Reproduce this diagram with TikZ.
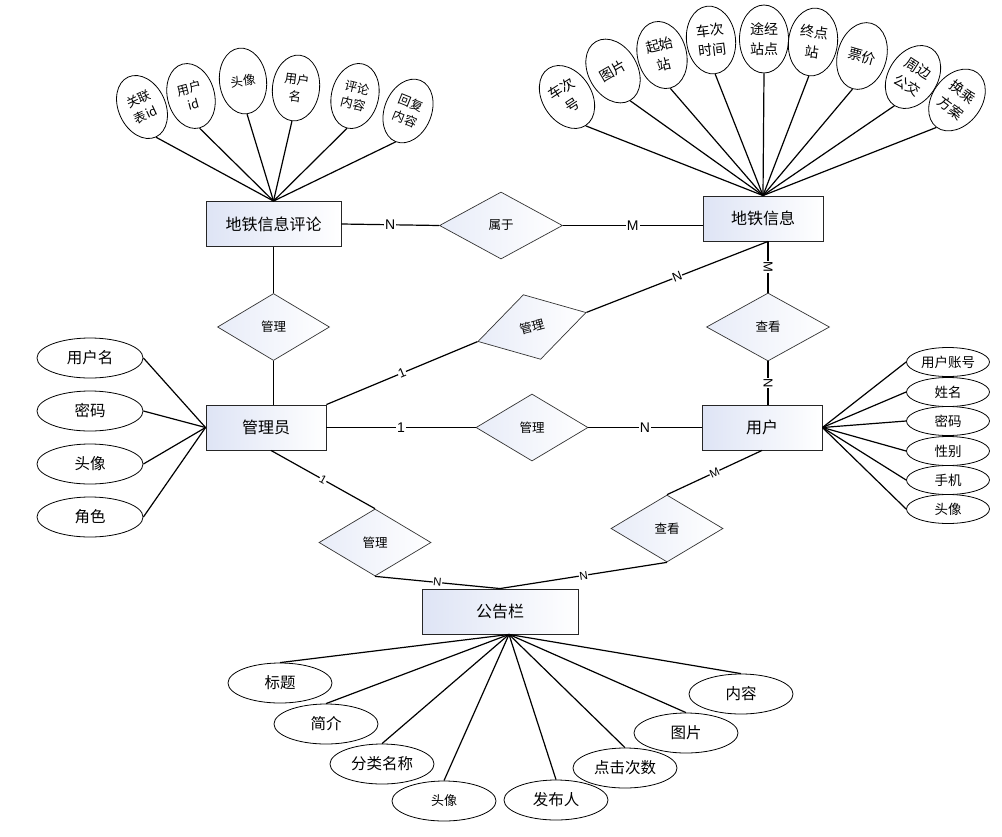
\documentclass[tikz,border=0pt]{standalone}
\usepackage{fontspec}
\newfontfamily\cjk{Noto Sans CJK SC}
\newfontfamily\lat{Liberation Sans}
\usetikzlibrary{shapes.geometric}
\definecolor{entbg}{RGB}{222,228,245}
\begin{document}
\begin{tikzpicture}[x=1pt,y=-1pt,
  ent/.style={draw=black!85, line width=0.9pt, minimum height=45pt, inner sep=0pt,
    left color=entbg, right color=white, font=\cjk\fontsize{16}{19}\selectfont},
  rel/.style={diamond, draw=black!80, line width=0.7pt, minimum width=112pt, minimum height=67pt,
    inner sep=0pt, left color=entbg!70!white, right color=white, font=\cjk\fontsize{12.5}{15}\selectfont},
  con/.style={draw=black, line width=1.2pt},
  lbl/.style={fill=white, inner sep=1pt, font=\lat\fontsize{14}{16}\selectfont},
  lblm/.style={fill=white, inner sep=0.5pt, font=\lat\fontsize{13}{15}\selectfont},
  lbls/.style={fill=white, inner sep=0.5pt, font=\lat\fontsize{11.5}{13}\selectfont},
  fanA/.style={ellipse, draw=black, line width=0.8pt, fill=white, minimum width=47pt, minimum height=66pt,
    inner sep=0pt, align=center, font=\cjk\fontsize{12.5}{17}\selectfont},
  fanB/.style={ellipse, draw=black, line width=0.8pt, fill=white, minimum width=49pt, minimum height=68pt,
    inner sep=0pt, align=center, font=\cjk\fontsize{14}{20}\selectfont},
  attL/.style={ellipse, draw=black, line width=0.8pt, fill=white, minimum width=106pt, minimum height=40pt,
    inner sep=0pt, font=\cjk\fontsize{15.5}{18}\selectfont},
  attR/.style={ellipse, draw=black, line width=0.8pt, fill=white, minimum width=83pt, minimum height=29pt,
    inner sep=0pt, font=\cjk\fontsize{13.5}{16}\selectfont},
  attG/.style={ellipse, draw=black, line width=0.8pt, fill=white, minimum width=104pt, minimum height=40pt,
    inner sep=0pt, font=\cjk\fontsize{15.5}{18}\selectfont}
]
\useasboundingbox (0,0) rectangle (1002,836);

% entities
\node[ent, minimum width=135pt] (cmt) at (273.5,224) {地铁信息评论};
\node[ent, minimum width=120pt] (sub) at (763,218.5) {地铁信息};
\node[ent, minimum width=120pt] (adm) at (266,427.5) {管理员};
\node[ent, minimum width=120pt] (usr) at (762,427.5) {用户};
\node[ent, minimum width=156pt] (ggl) at (500,611.5) {公告栏};

% relationships
\node[rel, minimum width=123pt] (shuyu) at (501,225.5) {属于};
\node[rel] (gl1) at (273.5,327) {管理};
\node[rel, rotate=15] (gl2) at (532,327) {管理};
\node[rel, minimum width=123pt, minimum height=68pt] (ck1) at (768,327) {查看};
\node[rel] (gl3) at (532,427.5) {管理};
\node[rel] (gl4) at (375,542.5) {管理};
\node[rel] (ck2) at (667,528.5) {查看};

\coordinate (subB) at (ck1.north |- sub.south);
\coordinate (admB) at ([xshift=5pt]adm.south);
\coordinate (gglF) at ([xshift=9pt]ggl.south);

% relationship connectors
\draw[con] (cmt.east) -- node[lbl]{N} (shuyu.west);
\draw[con] (shuyu.east) -- node[lbl]{M} (shuyu.east -| sub.west);
\draw[con] (cmt.south) -- (gl1.north);
\draw[con] (gl1.south) -- (gl1.south |- adm.north);
\draw[con] (adm.north east) -- node[lblm, sloped]{1} (gl2.west);
\draw[con] (gl2.east) -- node[lblm, sloped]{N} (subB);
\draw[con] (subB) -- node[lblm, sloped]{M} (ck1.north);
\draw[con] (ck1.south) -- node[lblm, sloped]{N} (ck1.south |- usr.north);
\draw[con] (adm.east) -- node[lbl]{1} (gl3.west);
\draw[con] (gl3.east) -- node[lbl]{N} (usr.west);
\draw[con] (admB) -- node[lbls, sloped]{1} (gl4.north);
\draw[con] (gl4.south) -- node[lbls, sloped]{N} (ggl.north);
\draw[con] (usr.south) -- node[lbls, sloped]{M} (ck2.north);
\draw[con] (ck2.south) -- node[lbls, sloped]{N} (ggl.north);

% attributes of 地铁信息评论
\node[fanA, rotate=25] (a1) at (142,107) {关联\\表id};
\node[fanA, rotate=15] (a2) at (191,96) {用户\\id};
\node[fanA, rotate=7] (a3) at (243,81) {头像};
\node[fanA, rotate=-7] (a4) at (296,88) {用户\\名};
\node[fanA, rotate=-14] (a5) at (355,96) {评论\\内容};
\node[fanA, rotate=-22] (a6) at (408,111) {回复\\内容};
\foreach \i in {1,...,6} \draw[con] (a\i.south) -- (cmt.north);

% attributes of 地铁信息
\node[fanB, rotate=33] (b1) at (567,97) {车次\\号};
\node[fanB, rotate=30] (b2) at (613,71) {图片};
\node[fanB, rotate=14] (b3) at (662,55) {起始\\站};
\node[fanB, rotate=7] (b4) at (711,40) {车次\\时间};
\node[fanB] (b5) at (764,39) {途经\\站点};
\node[fanB, rotate=-7] (b6) at (813,42) {终点\\站};
\node[fanB, rotate=-16] (b7) at (862,56) {票价};
\node[fanB, rotate=-33] (b8) at (913,77) {周边\\公交};
\node[fanB, rotate=-37] (b9) at (957,100) {换乘\\方案};
\foreach \i in {1,...,9} \draw[con] (b\i.south) -- (sub.north);

% attributes of 管理员
\node[attL] (l1) at (90,358) {用户名};
\node[attL] (l2) at (90,411) {密码};
\node[attL] (l3) at (90,464) {头像};
\node[attL] (l4) at (90,517) {角色};
\foreach \i in {1,...,4} \draw[con] (l\i.east) -- (adm.west);

% attributes of 用户
\node[attR] (r1) at (948,362) {用户账号};
\node[attR] (r2) at (948,392) {姓名};
\node[attR] (r3) at (948,421) {密码};
\node[attR] (r4) at (948,451) {性别};
\node[attR] (r5) at (948,480) {手机};
\node[attR] (r6) at (948,509) {头像};
\foreach \i in {1,...,6} \draw[con] (r\i.west) -- (usr.east);

% attributes of 公告栏
\node[attG] (g1) at (280,683) {标题};
\node[attG] (g2) at (326,724) {简介};
\node[attG] (g3) at (382,764) {分类名称};
\node[attG, font=\cjk\fontsize{13}{15}\selectfont] (g4) at (444,801) {头像};
\node[attG] (g5) at (556,800) {发布人};
\node[attG] (g6) at (625,768) {点击次数};
\node[attG] (g7) at (686,733) {图片};
\node[attG] (g8) at (741,694) {内容};
\foreach \i in {1,...,8} \draw[con] (gglF) -- (g\i.north);
\end{tikzpicture}
\end{document}
